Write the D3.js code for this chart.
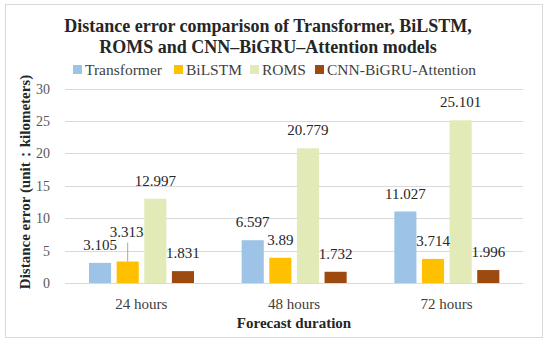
<!DOCTYPE html>
<html>
<head>
<meta charset="utf-8">
<script src="https://cdn.jsdelivr.net/npm/d3@7"></script>
<style>
  body { margin: 0; background: #fff; }
  svg { display: block; }
  text { font-family: "Liberation Serif", "DejaVu Serif", serif; }
</style>
</head>
<body>
<div id="chart"></div>
<script>
'use strict';

// ─── Data ────────────────────────────────────────────────────────────────────
const durations   = ['24 hours', '48 hours', '72 hours'];
const models      = ['Transformer', 'BiLSTM', 'ROMS', 'CNN-BiGRU-Attention'];
const transformer = [3.105, 6.597, 11.027];
const bilstm      = [3.313, 3.89, 3.714];
const roms        = [12.997, 20.779, 25.101];
const cnnBigru    = [1.831, 1.732, 1.996];
const yTicks      = [0, 5, 10, 15, 20, 25, 30];
const modelColors = ['#9DC3E6', '#FFC000', '#E2EBB8', '#9C4A10'];

const seriesValues = [transformer, bilstm, roms, cnnBigru];

// ─── Layout ──────────────────────────────────────────────────────────────────
const W = 550, H = 345;
const plot = { left: 65, right: 523, top: 88.5, bottom: 283 };

const svg = d3.select('#chart').append('svg').attr('width', W).attr('height', H);

// outer frame
svg.append('rect')
  .attr('x', 5.5).attr('y', 4.5).attr('width', 537).attr('height', 333)
  .attr('fill', '#fff').attr('stroke', '#d9d9d9').attr('stroke-width', 1);

const x0 = d3.scaleBand().domain(durations).range([plot.left, plot.right]);
const x1 = d3.scaleBand().domain(models).range([24, 129]).paddingInner(0.2);
const y  = d3.scaleLinear().domain([0, 30]).range([plot.bottom, plot.top]);

// gridlines
svg.append('g')
  .selectAll('line')
  .data(yTicks)
  .join('line')
  .attr('x1', plot.left).attr('x2', plot.right)
  .attr('y1', d => Math.round(y(d)) + 0.5).attr('y2', d => Math.round(y(d)) + 0.5)
  .attr('stroke', '#d9d9d9').attr('stroke-width', 1);

// y tick labels
svg.append('g')
  .selectAll('text')
  .data(yTicks)
  .join('text')
  .attr('x', 50).attr('y', d => y(d) + 5)
  .attr('text-anchor', 'end')
  .attr('font-size', 14).attr('fill', '#595959')
  .text(d => d);

// bars
const groups = svg.append('g')
  .selectAll('g')
  .data(durations)
  .join('g')
  .attr('transform', d => `translate(${x0(d)},0)`);

groups.selectAll('rect')
  .data((d, i) => models.map((m, j) => ({ model: m, value: seriesValues[j][i], j })))
  .join('rect')
  .attr('x', d => x1(d.model))
  .attr('y', d => y(d.value))
  .attr('width', x1.bandwidth())
  .attr('height', d => y(0) - y(d.value))
  .attr('fill', d => modelColors[d.j]);

// data labels (BiLSTM at 24 hours is lifted with a leader line)
groups.selectAll('text')
  .data((d, i) => models.map((m, j) => ({ model: m, value: seriesValues[j][i], j, i })))
  .join('text')
  .attr('x', d => x1(d.model) + x1.bandwidth() / 2 + (d.i === 0 && d.j === 1 ? -1 : 0))
  .attr('y', d => y(d.value) - (d.i === 0 && d.j === 1 ? 25 : 13))
  .attr('text-anchor', 'middle')
  .attr('font-size', 15).attr('fill', '#262626')
  .text(d => d.value);

const leaderX = x0(durations[0]) + x1(models[1]) + x1.bandwidth() / 2;
svg.append('line')
  .attr('x1', leaderX).attr('x2', leaderX)
  .attr('y1', y(bilstm[0])).attr('y2', y(bilstm[0]) - 19)
  .attr('stroke', '#a6a6a6').attr('stroke-width', 1);

// category labels
svg.append('g')
  .selectAll('text')
  .data(durations)
  .join('text')
  .attr('x', d => x0(d) + x0.bandwidth() / 2)
  .attr('y', 309)
  .attr('text-anchor', 'middle')
  .attr('font-size', 15).attr('fill', '#404040')
  .text(d => d);

// axis titles
svg.append('text')
  .attr('x', (plot.left + plot.right) / 2).attr('y', 328)
  .attr('text-anchor', 'middle')
  .attr('font-size', 15).attr('font-weight', 'bold').attr('fill', '#262626')
  .text('Forecast duration');

svg.append('text')
  .attr('transform', 'translate(30,182) rotate(-90)')
  .attr('text-anchor', 'middle')
  .attr('font-size', 15).attr('font-weight', 'bold').attr('fill', '#262626')
  .text('Distance error (unit：kilometers)');

// title
const title = svg.append('text')
  .attr('text-anchor', 'middle')
  .attr('font-size', 18).attr('font-weight', 'bold').attr('fill', '#262626');
title.append('tspan').attr('x', 268).attr('y', 32).text('Distance error comparison of Transformer, BiLSTM,');
title.append('tspan').attr('x', 268).attr('y', 53).text('ROMS and CNN–BiGRU–Attention models');

// legend
const legendX = [73, 174, 250, 315];
const legend = svg.append('g')
  .selectAll('g')
  .data(models)
  .join('g')
  .attr('transform', (d, i) => `translate(${legendX[i]},0)`);
legend.append('rect')
  .attr('x', 0).attr('y', 65).attr('width', 9).attr('height', 9)
  .attr('fill', (d, i) => modelColors[i]);
legend.append('text')
  .attr('x', 12).attr('y', 74.5)
  .attr('font-size', 15.5).attr('fill', '#404040')
  .text(d => d);
</script>
</body>
</html>
